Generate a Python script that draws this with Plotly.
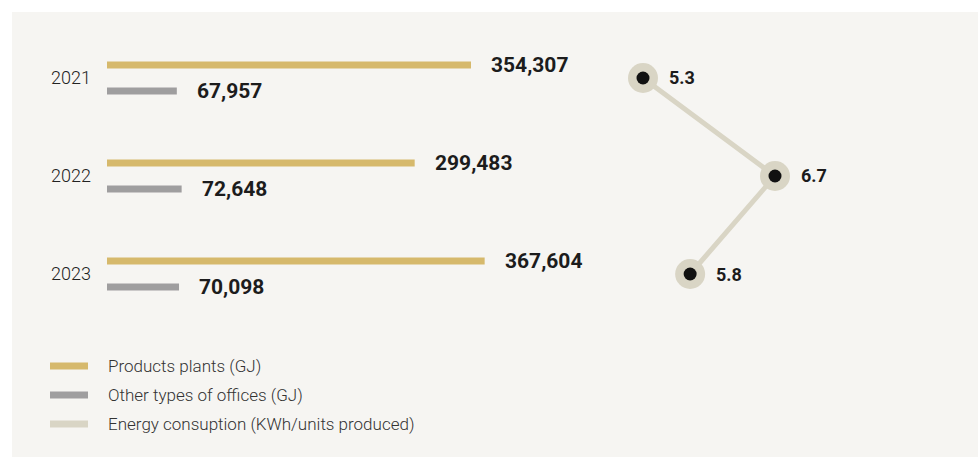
import plotly.graph_objects as go

years = ["2021", "2022", "2023"]
products_plants = [354307, 299483, 367604]
other_offices = [67957, 72648, 70098]
energy_consumption = [5.3, 6.7, 5.8]
legend_labels = ["Products plants (GJ)", "Other types of offices (GJ)",
                 "Energy consuption (KWh/units produced)"]

W, H = 978, 459
GOLD = "#d6b96c"
GRAY = "#9f9e9f"
BEIGE = "#d9d5c5"
BG = "#f6f5f2"
TXT = "#1c1c1c"
FONT = "Roboto"


def px(x):
    return x / W


def py(y):
    return 1 - y / H


bargap = 0.47
bargroupgap = 0.73
half = (1 - bargap) / 4

fig = go.Figure()
fig.add_bar(y=years, x=products_plants, orientation="h", marker=dict(color=GOLD, line=dict(width=0)),
            name=legend_labels[0], xaxis="x", yaxis="y", showlegend=False, hoverinfo="skip")
fig.add_bar(y=years, x=other_offices, orientation="h", marker=dict(color=GRAY, line=dict(width=0)),
            name=legend_labels[1], xaxis="x", yaxis="y", showlegend=False, hoverinfo="skip")
fig.add_scatter(x=energy_consumption, y=years, xaxis="x2", yaxis="y", mode="lines+markers",
                line=dict(color=BEIGE, width=5), marker=dict(size=30, color=BEIGE),
                name=legend_labels[2], showlegend=False, hoverinfo="skip")
fig.add_scatter(x=energy_consumption, y=years, xaxis="x2", yaxis="y", mode="markers",
                marker=dict(size=13, color="#111111"), showlegend=False, hoverinfo="skip")

annotations = []
for i, (a, b, e) in enumerate(zip(products_plants, other_offices, energy_consumption)):
    annotations.append(dict(x=a, y=i - half, xref="x", yref="y", text=f"<b>{a:,}</b>",
                            showarrow=False, xanchor="left", yanchor="middle", xshift=18,
                            font=dict(family=FONT, size=21, color=TXT)))
    annotations.append(dict(x=b, y=i + half, xref="x", yref="y", text=f"<b>{b:,}</b>",
                            showarrow=False, xanchor="left", yanchor="middle", xshift=18,
                            font=dict(family=FONT, size=21, color=TXT)))
    annotations.append(dict(x=e, y=i, xref="x2", yref="y", text=f"<b>{e}</b>",
                            showarrow=False, xanchor="left", yanchor="middle", xshift=24,
                            font=dict(family=FONT, size=18, color=TXT)))

shapes = [dict(type="rect", xref="paper", yref="paper", x0=px(12), x1=1, y0=py(457), y1=py(12),
               fillcolor=BG, line=dict(width=0), layer="below")]

legend_colors = [GOLD, GRAY, BEIGE]
for i, (lab, col) in enumerate(zip(legend_labels, legend_colors)):
    yc = 366 + 29 * i
    shapes.append(dict(type="rect", xref="paper", yref="paper", x0=px(50), x1=px(88),
                       y0=py(yc + 3.5), y1=py(yc - 3.5), fillcolor=col, line=dict(width=0)))
    annotations.append(dict(x=px(106), y=py(yc), xref="paper", yref="paper", text=lab,
                            showarrow=False, xanchor="left", yanchor="middle",
                            font=dict(family=FONT, size=17, color="#333333", weight=300)))

px_per_unit = 364 / 354307
fig.update_layout(
    width=W, height=H, margin=dict(l=0, r=0, t=0, b=0),
    paper_bgcolor="white", plot_bgcolor="rgba(0,0,0,0)",
    barmode="group", bargap=bargap, bargroupgap=bargroupgap,
    xaxis=dict(domain=[px(107), px(600)], range=[0, (600 - 107) / px_per_unit], visible=False,
               anchor="y"),
    xaxis2=dict(domain=[px(600), px(900)], range=[5.3 - 43 / 94.29, 5.3 + 257 / 94.29],
                visible=False, anchor="y"),
    yaxis=dict(type="category", categoryorder="array", categoryarray=years,
               range=[2.5, -0.5], domain=[py(323), py(29)], showgrid=False, zeroline=False,
               showline=False, ticks="", ticklabelstandoff=15,
               tickfont=dict(family=FONT, size=18, color="#222222", weight=300), anchor="x"),
    shapes=shapes, annotations=annotations, font=dict(family=FONT),
)

fig.write_html("out.html")
